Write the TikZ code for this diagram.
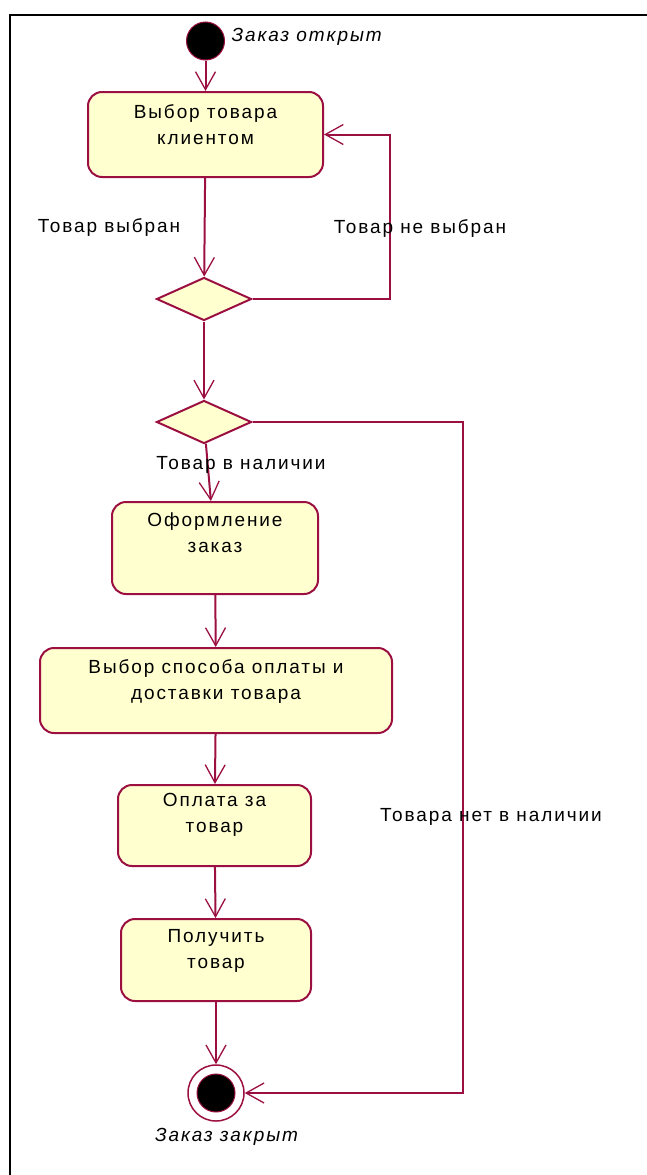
\documentclass[tikz,border=0pt]{standalone}
\usepackage{fontspec}
\setmainfont{Liberation Sans}[LetterSpace=10]
\usetikzlibrary{arrows.meta,shapes.geometric}
\definecolor{rosered}{RGB}{155,15,65}
\definecolor{rosefill}{RGB}{255,255,208}
\begin{document}
\begin{tikzpicture}[x=1pt,y=-1pt,
  act/.style={draw=rosered, fill=rosefill, rounded corners=14pt, line width=2pt, inner sep=0},
  dec/.style={diamond, aspect=2.2, draw=rosered, fill=rosefill, line width=2pt, inner sep=0, minimum width=95pt, minimum height=43pt},
  flow/.style={draw=rosered, line width=2pt, -{Straight Barb[length=18pt,width=20pt,line width=1.3pt]}},
  txt/.style={font=\fontsize{19}{26}\selectfont, align=center},
  lbl/.style={font=\fontsize{19}{26}\selectfont\itshape}]
\useasboundingbox (0,0) rectangle (647,1175);
\draw[line width=2pt] (10,1175) -- (10,15) -- (647,15);
\node[circle, fill=black, draw=rosered, line width=1pt, minimum size=38pt, inner sep=0] (start) at (205.5,41) {};
\node[lbl, anchor=west] (startlbl) at (228,37) {Заказ открыт};
\node[act, minimum width=235pt, minimum height=85pt] (b1) at (205.5,134.5) {};
\node[txt] (b1t) at (205.5,125) {Выбор товара\\клиентом};
\node[dec] (d1) at (204,299) {};
\node[dec] (d2) at (204,422) {};
\node[act, minimum width=206pt, minimum height=92pt] (b2) at (215,548) {};
\node[txt] (b2t) at (215,533) {Оформление\\заказ};
\node[act, minimum width=352pt, minimum height=85pt] (b3) at (216,690.5) {};
\node[txt] (b3t) at (216,681.5) {Выбор способа оплаты и\\доставки товара};
\node[act, minimum width=193pt, minimum height=81pt] (b4) at (214.5,825.5) {};
\node[txt] (b4t) at (214.5,814.5) {Оплата за\\товар};
\node[act, minimum width=190pt, minimum height=82pt] (b5) at (216,960) {};
\node[txt] (b5t) at (216,951) {Получить\\товар};
\node[circle, draw=rosered, fill=white, line width=1.5pt, minimum size=56pt, inner sep=0] (end) at (216,1093) {};
\node[circle, fill=black, draw=rosered, line width=1pt, minimum size=38pt, inner sep=0] (endin) at (end) {};
\node[lbl] (endlbl) at (226.5,1137) {Заказ закрыт};
\coordinate (lp) at (390,299);
\coordinate (rp) at (463,422);
\draw[flow] (start) -- (b1);
\draw[flow] (b1) -- (d1);
\draw[flow] (d1.east) -- (lp) |- (b1.east);
\draw[flow] (d1) -- (d2);
\draw[flow] (d2.east) -- (rp) |- (end.east);
\draw[flow] (d2) -- (b2);
\draw[flow] (b2) -- (b3);
\draw[flow] (b3) -- (b4);
\draw[flow] (b4) -- (b5);
\draw[flow] (b5) -- (end);
\node[txt] (sel) at (109,228) {Товар выбран};
\node[txt] (nosel) at (420,229) {Товар не выбран};
\node[txt] (avail) at (241,465) {Товар в наличии};
\node[txt] (noavail) at (491,817) {Товара нет в наличии};
\end{tikzpicture}
\end{document}
